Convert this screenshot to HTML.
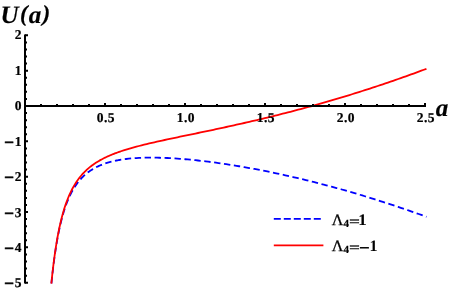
<!DOCTYPE html>
<html><head><meta charset="utf-8"><style>
html,body{margin:0;padding:0;background:#fff;}
svg{display:block;will-change:transform}
text{font-family:"Liberation Serif",serif;font-weight:bold;fill:#000;stroke:#000;stroke-width:0.2px;text-rendering:geometricPrecision}
</style></head><body>
<svg width="449" height="292" viewBox="0 0 449 292">
<rect width="449" height="292" fill="#fff"/>
<path d="M51.40,283.71 L52.28,275.26 L53.16,267.58 L54.04,260.57 L54.92,254.16 L55.81,248.28 L56.69,242.88 L57.57,237.90 L58.45,233.30 L59.33,229.04 L60.21,225.10 L61.09,221.43 L61.97,218.01 L62.85,214.83 L63.73,211.86 L64.62,209.08 L65.50,206.48 L66.38,204.03 L67.26,201.74 L68.14,199.59 L69.02,197.56 L69.90,195.64 L70.78,193.84 L71.66,192.13 L72.54,190.52 L73.43,189.00 L74.31,187.55 L75.19,186.18 L76.07,184.89 L76.95,183.65 L77.83,182.48 L78.71,181.36 L79.59,180.30 L80.47,179.29 L81.35,178.33 L82.24,177.41 L83.12,176.54 L84.00,175.70 L84.88,174.90 L85.76,174.14 L86.64,173.41 L87.52,172.72 L88.40,172.05 L89.28,171.41 L90.16,170.80 L91.05,170.21 L91.93,169.65 L92.81,169.11 L93.69,168.60 L94.57,168.10 L95.45,167.63 L96.33,167.17 L97.21,166.74 L98.09,166.32 L98.97,165.92 L99.86,165.53 L100.74,165.16 L101.62,164.80 L102.50,164.46 L103.38,164.13 L104.26,163.81 L105.14,163.51 L106.02,163.22 L106.90,162.94 L107.78,162.67 L108.67,162.41 L109.55,162.16 L110.43,161.92 L111.31,161.69 L112.19,161.47 L113.07,161.26 L113.95,161.06 L114.83,160.87 L115.71,160.68 L116.59,160.50 L117.48,160.33 L118.36,160.17 L119.24,160.01 L120.12,159.86 L121.00,159.71 L123.57,159.33 L126.13,158.99 L128.70,158.70 L131.27,158.45 L133.83,158.24 L136.40,158.07 L138.97,157.92 L141.53,157.81 L144.10,157.73 L146.67,157.67 L149.23,157.64 L151.80,157.63 L154.37,157.65 L156.93,157.68 L159.50,157.74 L162.07,157.82 L164.63,157.91 L167.20,158.02 L169.77,158.15 L172.33,158.29 L174.90,158.45 L177.47,158.62 L180.03,158.81 L182.60,159.01 L185.17,159.23 L187.73,159.45 L190.30,159.69 L192.87,159.94 L195.43,160.21 L198.00,160.48 L200.57,160.77 L203.14,161.06 L205.70,161.37 L208.27,161.69 L210.84,162.02 L213.40,162.36 L215.97,162.70 L218.54,163.06 L221.10,163.43 L223.67,163.80 L226.24,164.19 L228.80,164.58 L231.37,164.98 L233.94,165.39 L236.50,165.81 L239.07,166.24 L241.64,166.68 L244.20,167.12 L246.77,167.57 L249.34,168.03 L251.90,168.50 L254.47,168.98 L257.04,169.46 L259.60,169.96 L262.17,170.46 L264.74,170.96 L267.30,171.48 L269.87,172.00 L272.44,172.53 L275.00,173.07 L277.57,173.61 L280.14,174.16 L282.70,174.72 L285.27,175.29 L287.84,175.86 L290.40,176.44 L292.97,177.03 L295.54,177.63 L298.10,178.23 L300.67,178.84 L303.24,179.45 L305.80,180.07 L308.37,180.70 L310.94,181.34 L313.50,181.98 L316.07,182.63 L318.64,183.29 L321.20,183.95 L323.77,184.62 L326.34,185.30 L328.90,185.98 L331.47,186.67 L334.04,187.37 L336.60,188.07 L339.17,188.78 L341.74,189.50 L344.30,190.23 L346.87,190.96 L349.44,191.69 L352.01,192.43 L354.57,193.18 L357.14,193.94 L359.71,194.70 L362.27,195.47 L364.84,196.25 L367.41,197.03 L369.97,197.82 L372.54,198.61 L375.11,199.42 L377.67,200.22 L380.24,201.04 L382.81,201.86 L385.37,202.69 L387.94,203.52 L390.51,204.36 L393.07,205.21 L395.64,206.06 L398.21,206.92 L400.77,207.78 L403.34,208.65 L405.91,209.53 L408.47,210.42 L411.04,211.31 L413.61,212.20 L416.17,213.11 L418.74,214.02 L421.31,214.93 L423.87,215.85 L426.44,216.78" stroke="#0000ff" stroke-width="1.8" fill="none" stroke-dasharray="6.4 3.56" stroke-dashoffset="9.64"/>
<path d="M51.34,283.71 L52.22,275.15 L53.10,267.37 L53.98,260.26 L54.86,253.76 L55.75,247.80 L56.63,242.31 L57.51,237.24 L58.39,232.56 L59.27,228.22 L60.16,224.20 L61.04,220.45 L61.92,216.96 L62.80,213.70 L63.68,210.65 L64.56,207.80 L65.45,205.12 L66.33,202.60 L67.21,200.23 L68.09,197.99 L68.97,195.89 L69.86,193.89 L70.74,192.01 L71.62,190.22 L72.50,188.53 L73.38,186.92 L74.26,185.39 L75.15,183.94 L76.03,182.55 L76.91,181.23 L77.79,179.97 L78.67,178.77 L79.56,177.61 L80.44,176.51 L81.32,175.46 L82.20,174.44 L83.08,173.47 L83.96,172.54 L84.85,171.64 L85.73,170.78 L86.61,169.95 L87.49,169.15 L88.37,168.38 L89.25,167.64 L90.14,166.92 L91.02,166.23 L91.90,165.56 L92.78,164.91 L93.66,164.28 L94.55,163.68 L95.43,163.09 L96.31,162.52 L97.19,161.96 L98.07,161.42 L98.95,160.90 L99.84,160.39 L100.72,159.90 L101.60,159.42 L102.48,158.95 L103.36,158.50 L104.25,158.05 L105.13,157.62 L106.01,157.20 L106.89,156.78 L107.77,156.38 L108.65,155.99 L109.54,155.60 L110.42,155.23 L111.30,154.86 L112.18,154.50 L113.06,154.14 L113.95,153.80 L114.83,153.46 L115.71,153.13 L116.59,152.80 L117.47,152.48 L118.35,152.16 L119.24,151.85 L120.12,151.55 L121.00,151.25 L123.57,150.41 L126.13,149.60 L128.70,148.83 L131.27,148.08 L133.83,147.37 L136.40,146.67 L138.97,146.00 L141.53,145.34 L144.10,144.70 L146.67,144.08 L149.23,143.47 L151.80,142.87 L154.37,142.28 L156.93,141.70 L159.50,141.13 L162.07,140.56 L164.63,140.00 L167.20,139.45 L169.77,138.90 L172.33,138.36 L174.90,137.81 L177.47,137.27 L180.03,136.74 L182.60,136.20 L185.17,135.67 L187.73,135.13 L190.30,134.60 L192.87,134.07 L195.43,133.53 L198.00,133.00 L200.57,132.46 L203.14,131.92 L205.70,131.39 L208.27,130.85 L210.84,130.30 L213.40,129.76 L215.97,129.21 L218.54,128.66 L221.10,128.11 L223.67,127.56 L226.24,127.00 L228.80,126.44 L231.37,125.87 L233.94,125.30 L236.50,124.73 L239.07,124.16 L241.64,123.58 L244.20,123.00 L246.77,122.41 L249.34,121.82 L251.90,121.22 L254.47,120.62 L257.04,120.02 L259.60,119.41 L262.17,118.80 L264.74,118.18 L267.30,117.56 L269.87,116.94 L272.44,116.31 L275.00,115.67 L277.57,115.03 L280.14,114.39 L282.70,113.74 L285.27,113.08 L287.84,112.42 L290.40,111.76 L292.97,111.09 L295.54,110.41 L298.10,109.73 L300.67,109.05 L303.24,108.36 L305.80,107.66 L308.37,106.96 L310.94,106.26 L313.50,105.55 L316.07,104.83 L318.64,104.11 L321.20,103.38 L323.77,102.65 L326.34,101.91 L328.90,101.17 L331.47,100.42 L334.04,99.67 L336.60,98.91 L339.17,98.14 L341.74,97.37 L344.30,96.60 L346.87,95.82 L349.44,95.03 L352.01,94.24 L354.57,93.44 L357.14,92.64 L359.71,91.83 L362.27,91.01 L364.84,90.19 L367.41,89.37 L369.97,88.54 L372.54,87.70 L375.11,86.86 L377.67,86.01 L380.24,85.15 L382.81,84.29 L385.37,83.43 L387.94,82.56 L390.51,81.68 L393.07,80.80 L395.64,79.91 L398.21,79.01 L400.77,78.11 L403.34,77.21 L405.91,76.30 L408.47,75.38 L411.04,74.45 L413.61,73.53 L416.17,72.59 L418.74,71.65 L421.31,70.70 L423.87,69.75 L426.44,68.79" stroke="#ff0000" stroke-width="1.8" fill="none"/>
<path d="M25.0,34.42 V283.60" stroke="#000" stroke-width="2" fill="none"/>
<path d="M24.0,106.0 H426.0" stroke="#000" stroke-width="2" fill="none"/>
<path d="M41.00,106.00 V104.00 M57.00,106.00 V104.00 M73.00,106.00 V104.00 M89.00,106.00 V104.00 M105.00,106.00 V103.00 M121.00,106.00 V104.00 M137.00,106.00 V104.00 M153.00,106.00 V104.00 M169.00,106.00 V104.00 M185.00,106.00 V103.00 M201.00,106.00 V104.00 M217.00,106.00 V104.00 M233.00,106.00 V104.00 M249.00,106.00 V104.00 M265.00,106.00 V103.00 M281.00,106.00 V104.00 M297.00,106.00 V104.00 M313.00,106.00 V104.00 M329.00,106.00 V104.00 M345.00,106.00 V103.00 M361.00,106.00 V104.00 M377.00,106.00 V104.00 M393.00,106.00 V104.00 M409.00,106.00 V104.00 M425.00,106.00 V103.00 M25.00,282.70 H28.00 M25.00,275.63 H27.00 M25.00,268.56 H27.00 M25.00,261.50 H27.00 M25.00,254.43 H27.00 M25.00,247.36 H28.00 M25.00,240.29 H27.00 M25.00,233.22 H27.00 M25.00,226.16 H27.00 M25.00,219.09 H27.00 M25.00,212.02 H28.00 M25.00,204.95 H27.00 M25.00,197.88 H27.00 M25.00,190.82 H27.00 M25.00,183.75 H27.00 M25.00,176.68 H28.00 M25.00,169.61 H27.00 M25.00,162.54 H27.00 M25.00,155.48 H27.00 M25.00,148.41 H27.00 M25.00,141.34 H28.00 M25.00,134.27 H27.00 M25.00,127.20 H27.00 M25.00,120.14 H27.00 M25.00,113.07 H27.00 M25.00,98.93 H27.00 M25.00,91.86 H27.00 M25.00,84.80 H27.00 M25.00,77.73 H27.00 M25.00,70.66 H28.00 M25.00,63.59 H27.00 M25.00,56.52 H27.00 M25.00,49.46 H27.00 M25.00,42.39 H27.00 M25.00,35.32 H28.00 " stroke="#000" stroke-width="2" fill="none"/>
<g font-size="13.5px" text-anchor="middle" letter-spacing="0.5">
<text x="105.9" y="122.2">0.5</text>
<text x="185.9" y="122.2">1.0</text>
<text x="265.9" y="122.2">1.5</text>
<text x="345.9" y="122.2">2.0</text>
<text x="425.9" y="121.5">2.5</text>
</g>
<g font-size="13.5px" text-anchor="end">
<text x="21.4" y="39.0">2</text>
<text x="21.4" y="74.7">1</text>
<text x="21.4" y="110.3">0</text>
<text x="21.4" y="145.8"><tspan font-size="17px" dy="2" stroke-width="0.7">−</tspan><tspan dy="-2" dx="0.8">1</tspan></text>
<text x="21.4" y="180.9"><tspan font-size="17px" dy="2" stroke-width="0.7">−</tspan><tspan dy="-2" dx="0.8">2</tspan></text>
<text x="21.4" y="216.8"><tspan font-size="17px" dy="2" stroke-width="0.7">−</tspan><tspan dy="-2" dx="0.8">3</tspan></text>
<text x="21.4" y="252.2"><tspan font-size="17px" dy="2" stroke-width="0.7">−</tspan><tspan dy="-2" dx="0.8">4</tspan></text>
<text x="21.4" y="286.7"><tspan font-size="17px" dy="2" stroke-width="0.7">−</tspan><tspan dy="-2" dx="0.8">5</tspan></text>
</g>
<text y="22.5" font-size="25px" font-style="italic"><tspan x="0.5">U</tspan><tspan x="20" y="21.1" font-size="23px">(</tspan><tspan x="28.8" y="22.5">a</tspan><tspan x="42.4" y="21.1" font-size="23px">)</tspan></text>
<text x="435.8" y="116.3" font-size="25px" font-style="italic">a</text>
<path d="M273.8,218.85 H321" stroke="#0000ff" stroke-width="1.9" stroke-dasharray="7 3" fill="none"/>
<path d="M273.8,245.45 H323.4" stroke="#ff0000" stroke-width="1.8" fill="none"/>
<text font-size="16px" y="224.8"><tspan x="331.8" font-weight="normal" stroke-width="0.25">Λ</tspan><tspan x="343.5" y="226.6" font-size="11px">4</tspan></text><text font-size="16px" transform="translate(349.0,226.1) scale(1.21,0.88)" stroke-width="1.1">=</text><text font-size="16px" x="358.4" y="224.8" stroke-width="0">1</text>
<text font-size="16px" y="251.1"><tspan x="331.8" font-weight="normal" stroke-width="0.25">Λ</tspan><tspan x="343.5" y="252.9" font-size="11px">4</tspan></text><text font-size="16px" transform="translate(349.0,252.4) scale(1.21,0.88)" stroke-width="1.1">=</text><text font-size="16px" y="251.1"><tspan x="358.9" y="253.9" font-size="19px">−</tspan><tspan x="369.4" y="251.1" stroke-width="0">1</tspan></text>
</svg>
</body></html>
